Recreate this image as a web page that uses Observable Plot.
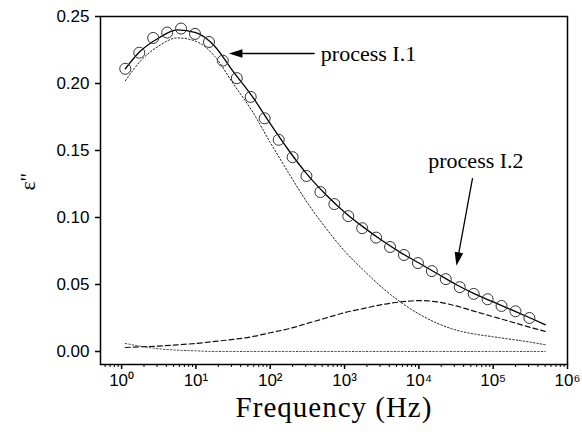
<!DOCTYPE html>
<html><head><meta charset="utf-8">
<script src="https://cdn.jsdelivr.net/npm/d3@7"></script>
<script src="https://cdn.jsdelivr.net/npm/@observablehq/plot@0.6"></script>
<style>
body{margin:0;background:#fff}
.serif-lab text{font-family:"Liberation Serif","Times New Roman",serif !important;}
.xlab text{letter-spacing:1px;}
</style>
</head><body><div id="chart"></div>
<script>
// measured points (circles)
const measFreq = [1.12,1.73,2.66,4.10,6.31,9.72,15.0,23.0,35.5,54.6,84.1,130,200,307,473,729,1122,1728,2661,4097,6310,9716,14962,23039,35481,54639,84140,129569,199526,307256];
const measEps  = [0.211,0.223,0.234,0.238,0.241,0.237,0.231,0.217,0.204,0.190,0.174,0.158,0.145,0.131,0.119,0.110,0.101,0.092,0.085,0.078,0.072,0.066,0.060,0.054,0.048,0.043,0.039,0.034,0.030,0.025];
// fit curves
const fitFreq = [1.122,1.778,3.162,5.623,10,17.78,31.62,56.23,100,177.8,316.2,562.3,1000,1778,3162,5623,10000,17783,31623,56234,100000,177828,316228,501187];
const fitTotal = [0.211,0.224,0.234,0.240,0.238,0.228,0.209,0.191,0.170,0.150,0.132,0.117,0.104,0.093,0.083,0.074,0.066,0.058,0.050,0.043,0.037,0.031,0.025,0.020];
const procI1 = [0.202,0.2165,0.228,0.234,0.2315,0.2205,0.200,0.180,0.156,0.133,0.111,0.092,0.075,0.061,0.048,0.037,0.028,0.021,0.016,0.013,0.011,0.009,0.007,0.005];
const procI2 = [0.003,0.0035,0.004,0.005,0.006,0.0075,0.009,0.011,0.014,0.017,0.021,0.025,0.029,0.032,0.035,0.037,0.038,0.037,0.034,0.030,0.026,0.022,0.018,0.015];
const cond   = [0.006,0.004,0.002,0.001,0.0005,0,0,0,0,0,0,0,0,0,0,0,0,0,0,0,0,0,0,0];
const yTicks = [0,0.05,0.10,0.15,0.20,0.25];
const xTicks = [1,10,100,1000,10000,100000,1000000];
const supers = ["⁰","¹","²","³","⁴","⁵","⁶"];
// annotations [freq, eps]
const ann1Arrow = [[389,0.2224],[35,0.2224]];
const ann1Text = [480,0.2224,"process I.1"];
const ann2Arrow = [[52600,0.129],[33400,0.0694]];
const ann2Text = [58600,0.1425,"process I.2"];

const meas = measFreq.map((f,i)=>({f, e: measEps[i]}));
const mk = arr => fitFreq.map((f,i)=>({f, e: arr[i]}));
const minor = [];
for (let d = -1; d < 6; d++) for (let m = 2; m <= 9; m++) { const v = m*Math.pow(10,d); if (v>0.52 && v<1e6) minor.push(v); }

const headSym = {draw(ctx, size){ const l = Math.sqrt(size)*1.9, w = l*0.32; ctx.moveTo(0,-l*0.55); ctx.lineTo(w,l*0.45); ctx.lineTo(-w,l*0.45); ctx.closePath(); }};
const serif = "Liberation Serif";

const chart = Plot.plot({
  width: 582, height: 436,
  marginLeft: 100, marginRight: 15, marginTop: 16, marginBottom: 72,
  style: {fontFamily: "Liberation Sans, Arial, sans-serif", fontSize: "17px", color: "#000", background: "#fff"},
  x: {type: "log", domain: [0.52, 1e6]},
  y: {domain: [-0.0097, 0.25]},
  marks: [
    Plot.frame({stroke: "#000", strokeWidth: 1.5}),
    Plot.axisY({ticks: yTicks, tickFormat: d3.format(".2f"), tickSize: 5, tickPadding: 6, label: null, strokeWidth: 1.5}),
    Plot.axisX({ticks: xTicks, tickFormat: d => "10" + supers[Math.round(Math.log10(d))], tickSize: 5, tickPadding: 4, label: null, strokeWidth: 1.5}),
    Plot.axisX({ticks: minor, tickFormat: () => "", tickSize: 3, label: null, strokeWidth: 1}),
    Plot.line(mk(cond), {x: "f", y: "e", stroke: "#444", strokeWidth: 1, strokeDasharray: "1.5,2", curve: "monotone-x"}),
    Plot.line(mk(procI2), {x: "f", y: "e", stroke: "#111", strokeWidth: 1.2, strokeDasharray: "5,3", curve: "monotone-x"}),
    Plot.line(mk(procI1), {x: "f", y: "e", stroke: "#222", strokeWidth: 1, strokeDasharray: "1.5,2", curve: "monotone-x"}),
    Plot.line(mk(fitTotal), {x: "f", y: "e", stroke: "#000", strokeWidth: 1.3, curve: "monotone-x"}),
    Plot.dot(meas, {x: "f", y: "e", r: 5.5, stroke: "#333", strokeWidth: 1, fill: "none"}),
    Plot.line(ann1Arrow, {x: d => d[0], y: d => d[1], stroke: "#000", strokeWidth: 1.3}),
    Plot.dot([ann1Arrow[1]], {x: d => d[0], y: d => d[1], symbol: headSym, r: 4, fill: "#000", stroke: "none", rotate: -90}),
    Plot.text([ann1Text], {x: d => d[0], y: d => d[1], text: d => d[2], textAnchor: "start", fontFamily: serif, fontSize: 22, className: "serif-lab"}),
    Plot.line(ann2Arrow, {x: d => d[0], y: d => d[1], stroke: "#000", strokeWidth: 1.3}),
    Plot.dot([ann2Arrow[1]], {x: d => d[0], y: d => d[1], symbol: headSym, r: 4, fill: "#000", stroke: "none", rotate: 190.6}),
    Plot.text([ann2Text], {x: d => d[0], y: d => d[1], text: d => d[2], textAnchor: "middle", fontFamily: serif, fontSize: 22, className: "serif-lab"}),
    Plot.text(["Frequency (Hz)"], {frameAnchor: "bottom", dy: 52, fontFamily: serif, fontSize: 29, className: "serif-lab xlab"}),
    Plot.text(["ε''"], {frameAnchor: "left", dx: -73, dy: 0, rotate: -90, fontFamily: serif, fontSize: 22, className: "serif-lab"})
  ]
});
document.getElementById("chart").appendChild(chart);
</script></body></html>
